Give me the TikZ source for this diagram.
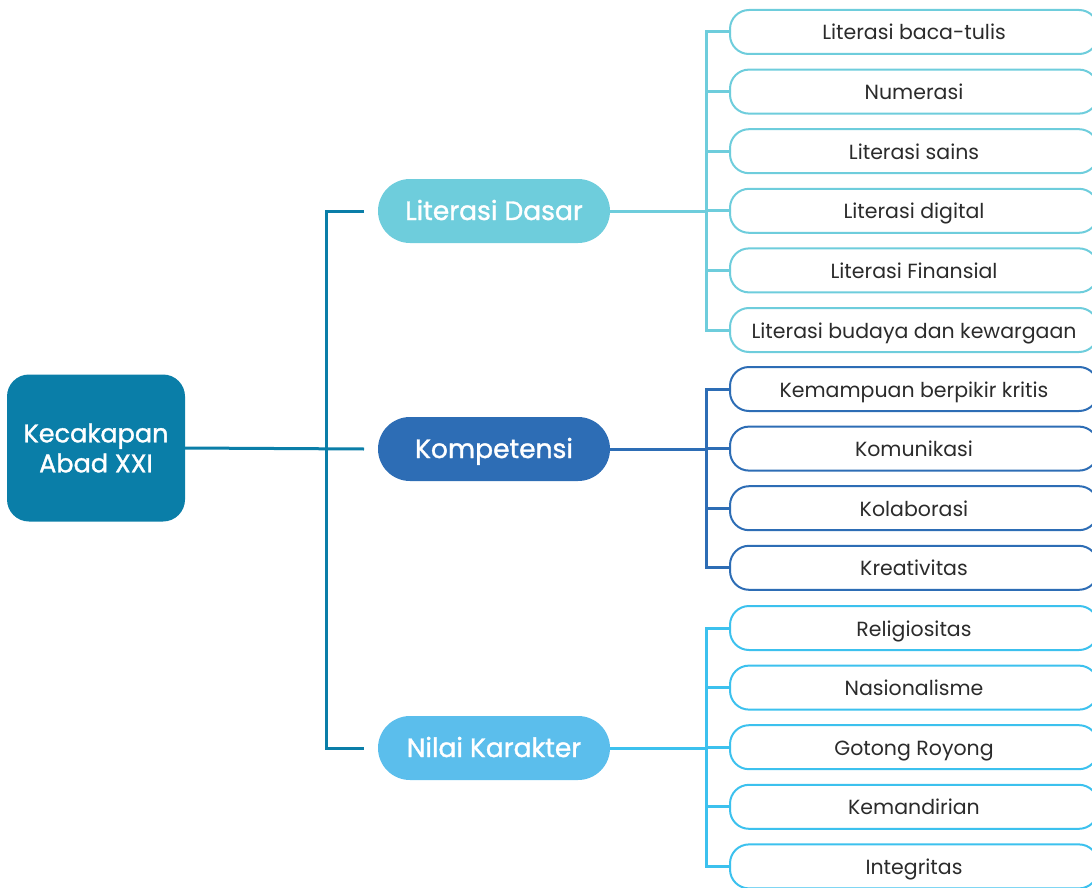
\documentclass[tikz,border=0pt]{standalone}
\usepackage{fontspec}
\setmainfont{Poppins}
\newfontfamily\medfont[FakeBold=1.3]{Poppins}
\usetikzlibrary{positioning}
\definecolor{rootblue}{HTML}{0A7EA8}
\definecolor{litcol}{HTML}{6ECDDC}
\definecolor{komcol}{HTML}{2D6DB5}
\definecolor{nilcol}{HTML}{5BBEEC}
\definecolor{nilline}{HTML}{3CC1EE}
\definecolor{textgray}{HTML}{2B2B2B}

\begin{document}
\begin{tikzpicture}[x=1pt,y=-1pt,
		rootbox/.style={fill=rootblue, rounded corners=22pt, minimum width=178pt, minimum height=147pt,
			text=white, align=center, font=\medfont\fontsize{25.5}{30}\selectfont},
		mainbox/.style={rounded corners=32pt, minimum width=232pt, minimum height=64pt,
			text=white, text height=20pt, text depth=2pt, font=\medfont\fontsize{26.5}{30}\selectfont},
		leafbox/.style={draw, fill=white, line width=2pt, rounded corners=19pt, minimum width=368pt,
			minimum height=44pt, inner sep=0pt, text height=17pt, text depth=1pt, text=textgray,
			font=\fontsize{20.5}{22}\selectfont},
		link/.style={line width=3pt}]
		\useasboundingbox (0,0) rectangle (1092,888);
		\clip (0,0) rectangle (1092,888);

		% Root and main branches
		\node[rootbox] (root) at (96,448) {Kecakapan\\Abad XXI};
		\node[mainbox, fill=litcol] (lit) at (494,211) {Literasi Dasar};
		\node[mainbox, fill=komcol] (kom) at (494,449) {Kompetensi};
		\node[mainbox, fill=nilcol] (nil) at (494,748) {Nilai Karakter};

		\coordinate (rbar) at (326,0);
		\coordinate (rend) at (364,0);
		\coordinate (bar) at (706,0);

		% Bracket from the root
		\draw[link, rootblue] (root.east) -- (kom.west -| rend);
		\draw[link, rootblue] (lit.west -| rend) -- (lit.west -| rbar) -- (nil.west -| rbar) -- (nil.west -| rend);

		% Literasi Dasar
		\foreach \txt [count=\i] in {Literasi baca-tulis, Numerasi, Literasi sains, Literasi digital,
			Literasi Finansial, Literasi budaya dan kewargaan}
			\node[leafbox, draw=litcol] (lit\i) at (914,{32+(\i-1)*59.6}) {\txt};
		\draw[link, litcol] (lit.east) -- (lit.east -| bar);
		\draw[link, litcol] (lit1.west) -- (lit1.west -| bar) -- (lit6.west -| bar) -- (lit6.west);
		\foreach \i in {2,...,5}
			\draw[link, litcol] (lit\i.west -| bar) -- (lit\i.west);

		% Kompetensi
		\foreach \txt [count=\i] in {Kemampuan berpikir kritis, Komunikasi, Kolaborasi, Kreativitas}
			\node[leafbox, draw=komcol] (kom\i) at (914,{389+(\i-1)*59.6}) {\txt};
		\draw[link, komcol] (kom.east) -- (kom.east -| bar);
		\draw[link, komcol] (kom1.west) -- (kom1.west -| bar) -- (kom4.west -| bar) -- (kom4.west);
		\foreach \i in {2,3}
			\draw[link, komcol] (kom\i.west -| bar) -- (kom\i.west);

		% Nilai Karakter
		\foreach \txt [count=\i] in {Religiositas, Nasionalisme, Gotong Royong, Kemandirian, Integritas}
			\node[leafbox, draw=nilline] (nil\i) at (914,{628+(\i-1)*59.6}) {\txt};
		\draw[link, nilline] (nil.east) -- (nil.east -| bar);
		\draw[link, nilline] (nil1.west) -- (nil1.west -| bar) -- (nil5.west -| bar) -- (nil5.west);
		\foreach \i in {2,...,4}
			\draw[link, nilline] (nil\i.west -| bar) -- (nil\i.west);
	\end{tikzpicture}
\end{document}
